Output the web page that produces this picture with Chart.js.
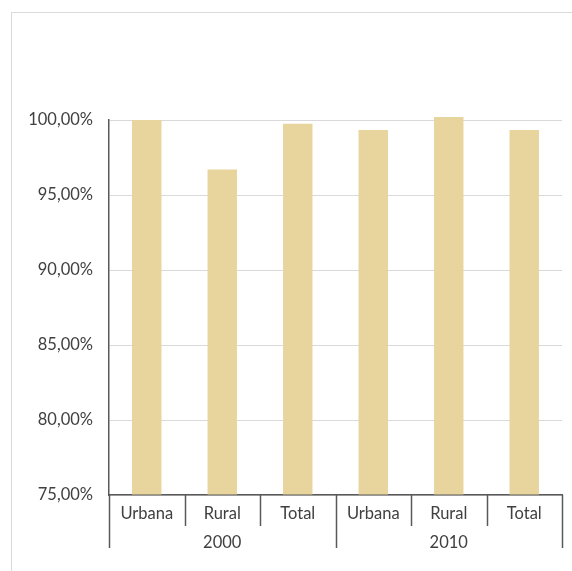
<!DOCTYPE html>
<html>
<head>
<meta charset="utf-8">
<script src="https://cdn.jsdelivr.net/npm/chart.js@4.4.1/dist/chart.umd.min.js"></script>
<style>
  html, body { margin: 0; padding: 0; background: #fff; }
  #wrap { position: relative; width: 572px; height: 571px; }
  #frame { position: absolute; left: 11px; top: 12px; right: -2px; bottom: -2px; border-left: 1px solid #d9d9d9; border-top: 1px solid #d9d9d9; }
  canvas { position: absolute; left: 0; top: 0; }
</style>
</head>
<body>
<div id="wrap">
  <div id="frame"></div>
  <canvas id="chart" width="572" height="571"></canvas>
</div>
<script>
const categories = ["Urbana", "Rural", "Total", "Urbana", "Rural", "Total"];
const groups = ["2000", "2010"];
const groupSize = 3;
const values = [100.0, 96.7, 99.75, 99.33, 100.2, 99.33];
const yMin = 75;
const yMax = 100;

const axisColor = "#595959";
const fontFamily = "Lato, 'Noto Sans', sans-serif";

// draws the separators and year labels under the category axis
const groupAxis = {
  id: "groupAxis",
  afterDraw(chart) {
    const ctx = chart.ctx;
    const x = chart.scales.x;
    const top = x.top;
    const step = x.getPixelForValue(1) - x.getPixelForValue(0);
    ctx.save();
    ctx.strokeStyle = axisColor;
    ctx.lineWidth = 1.5;
    for (let i = 0; i <= categories.length; i++) {
      const px = Math.round(x.getPixelForValue(i) - step / 2) + 0.5;
      const isGroup = i % groupSize === 0;
      ctx.beginPath();
      ctx.moveTo(px, top);
      ctx.lineTo(px, top + (isGroup ? 53 : 31));
      ctx.stroke();
    }
    ctx.fillStyle = "#404040";
    ctx.font = "16.5px " + fontFamily;
    ctx.textAlign = "center";
    ctx.textBaseline = "middle";
    groups.forEach((g, gi) => {
      const a = x.getPixelForValue(gi * groupSize);
      const b = x.getPixelForValue(gi * groupSize + groupSize - 1);
      ctx.fillText(g, (a + b) / 2, top + 48);
    });
    ctx.restore();
  }
};

new Chart(document.getElementById("chart").getContext("2d"), {
  type: "bar",
  data: {
    labels: categories,
    datasets: [{
      data: values,
      base: yMin,
      backgroundColor: "rgb(232, 213, 158)",
      barPercentage: 0.39,
      categoryPercentage: 1,
      clip: { top: false, bottom: 0, left: 0, right: 0 }
    }]
  },
  options: {
    responsive: false,
    animation: false,
    layout: { padding: { top: 120, right: 10, left: 0, bottom: 0 } },
    plugins: { legend: { display: false }, tooltip: { enabled: false } },
    scales: {
      x: {
        afterFit(scale) { scale.height = 76; },
        grid: { display: false },
        border: { color: axisColor, width: 1.5 },
        ticks: { color: "#404040", font: { family: fontFamily, size: 16.5 }, padding: 1 }
      },
      y: {
        min: yMin,
        max: yMax,
        afterFit(scale) { scale.width = 109; },
        ticks: {
          stepSize: 5,
          color: "#404040",
          padding: 16,
          font: { family: fontFamily, size: 16.5 },
          callback: v => v.toFixed(2).replace(".", ",") + "%"
        },
        grid: { color: "#d9d9d9", drawTicks: false },
        border: { color: axisColor, width: 1.5 }
      }
    }
  },
  plugins: [groupAxis]
});
</script>
</body>
</html>
